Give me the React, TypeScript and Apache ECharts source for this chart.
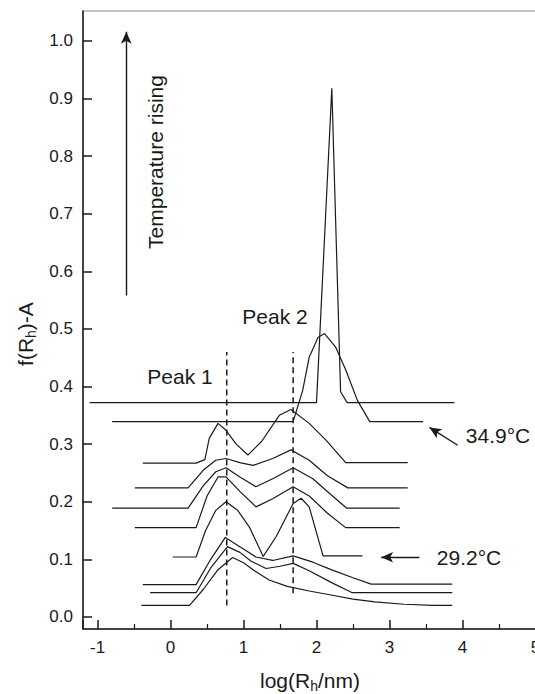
import React, { useEffect, useRef } from 'react';
import * as echarts from 'echarts';

// ---- data (log(Rh/nm), f(Rh)-A) ----
const c1X = [-0.40, 0.26, 0.45, 0.65, 0.85, 1.0, 1.15, 1.35, 1.6, 1.9, 2.2, 2.5, 2.8, 3.2, 3.6, 3.86];
const c1Y = [0.020, 0.020, 0.048, 0.082, 0.103, 0.094, 0.080, 0.064, 0.053, 0.045, 0.038, 0.031, 0.026, 0.022, 0.020, 0.020];

const c2X = [-0.28, 0.35, 0.55, 0.78, 0.95, 1.1, 1.31, 1.5, 1.68, 1.9, 2.2, 2.49, 3.86];
const c2Y = [0.042, 0.042, 0.085, 0.122, 0.112, 0.097, 0.084, 0.088, 0.093, 0.080, 0.060, 0.042, 0.042];

const c3X = [-0.38, 0.35, 0.55, 0.75, 0.95, 1.17, 1.4, 1.68, 1.95, 2.2, 2.5, 2.75, 3.86];
const c3Y = [0.056, 0.056, 0.100, 0.138, 0.122, 0.104, 0.098, 0.106, 0.095, 0.082, 0.068, 0.057, 0.057];

// 29.2 °C
const c4X = [0.03, 0.35, 0.48, 0.62, 0.76, 0.92, 1.08, 1.27, 1.45, 1.68, 1.79, 1.90, 2.09, 2.63];
const c4Y = [0.104, 0.104, 0.150, 0.185, 0.200, 0.185, 0.156, 0.105, 0.140, 0.197, 0.206, 0.191, 0.106, 0.106];

const c5X = [-0.49, 0.35, 0.50, 0.65, 0.76, 0.95, 1.17, 1.40, 1.68, 1.90, 2.15, 2.40, 3.14];
const c5Y = [0.155, 0.155, 0.210, 0.243, 0.243, 0.218, 0.191, 0.205, 0.226, 0.210, 0.180, 0.155, 0.155];

const c6X = [-0.80, 0.24, 0.45, 0.62, 0.76, 0.95, 1.17, 1.40, 1.68, 1.95, 2.2, 2.41, 3.14];
const c6Y = [0.189, 0.189, 0.228, 0.252, 0.259, 0.243, 0.226, 0.240, 0.259, 0.240, 0.212, 0.189, 0.189];

const c7X = [-0.49, 0.24, 0.45, 0.62, 0.76, 0.95, 1.13, 1.40, 1.65, 1.90, 2.15, 2.43, 3.25];
const c7Y = [0.224, 0.224, 0.255, 0.272, 0.275, 0.268, 0.263, 0.275, 0.290, 0.272, 0.245, 0.224, 0.224];

const c8X = [-0.38, 0.35, 0.47, 0.53, 0.65, 0.76, 0.90, 1.06, 1.25, 1.49, 1.65, 1.90, 2.13, 2.40, 3.25];
const c8Y = [0.267, 0.267, 0.273, 0.310, 0.336, 0.324, 0.300, 0.281, 0.305, 0.350, 0.360, 0.336, 0.307, 0.268, 0.268];

// 34.9 °C
const c9X = [-0.80, 1.68, 1.81, 1.90, 2.02, 2.11, 2.26, 2.40, 2.56, 2.73, 3.46];
const c9Y = [0.339, 0.339, 0.393, 0.451, 0.485, 0.492, 0.469, 0.429, 0.376, 0.339, 0.339];

const c10X = [-1.11, 2.00, 2.21, 2.33, 2.42, 3.89];
const c10Y = [0.372, 0.372, 0.918, 0.391, 0.372, 0.372];

const curvesX = [c1X, c2X, c3X, c4X, c5X, c6X, c7X, c8X, c9X, c10X];
const curvesY = [c1Y, c2Y, c3Y, c4Y, c5Y, c6Y, c7Y, c8Y, c9Y, c10Y];

// dashed peak guides: x position, y bottom, y top
const peakLineX = [0.77, 1.68];
const peakLineYBottom = [0.020, 0.041];
const peakLineYTop = [0.46, 0.46];

// arrows [x0, y0, x1(tip), y1(tip)]
const arrowTemp = [-0.607, 0.558, -0.607, 1.016];
const arrow349 = [3.935, 0.298, 3.548, 0.329];
const arrow292 = [3.41, 0.1036, 2.886, 0.1036];

const xMin = -1.2;
const xMax = 5.2;
const yMin = -0.021;
const yMax = 1.052;

const FONT = '"Liberation Sans", Arial, Helvetica, sans-serif';
const INK = '#1a1a1a';

function zip(xs: number[], ys: number[]) {
  return xs.map((x, i) => [x, ys[i]]);
}

export default function App() {
  const ref = useRef<HTMLDivElement>(null);
  useEffect(() => {
    if (!ref.current) return;
    const chart = echarts.init(ref.current, undefined, { renderer: 'svg' });

    const curveSeries = curvesX.map((xs, i) => ({
      type: 'line',
      name: 'curve' + (i + 1),
      data: zip(xs, curvesY[i]),
      showSymbol: false,
      symbol: 'none',
      lineStyle: { color: INK, width: 1.2 },
      z: 3,
    }));

    const dashedSeries = peakLineX.map((x, i) => ({
      type: 'line',
      name: 'peak' + (i + 1),
      data: [[x, peakLineYBottom[i]], [x, peakLineYTop[i]]],
      showSymbol: false,
      symbol: 'none',
      lineStyle: { color: INK, width: 1.5, type: [6, 4] },
      z: 2,
    }));

    const arrows = [arrowTemp, arrow349, arrow292].map((a) => [
      { coord: [a[0], a[1]] },
      { coord: [a[2], a[3]] },
    ]);

    const arrowSeries = {
      type: 'line',
      name: 'arrows',
      data: [],
      markLine: {
        silent: true,
        symbol: ['none', 'arrow'],
        symbolSize: [8, 12],
        label: { show: false },
        lineStyle: { color: INK, width: 1.4, type: 'solid' },
        data: arrows,
      },
    };

    const textStyleBase = { fill: INK, fontFamily: FONT, fontSize: 21, align: 'center', verticalAlign: 'middle' };

    chart.setOption({
      animation: false,
      backgroundColor: '#ffffff',
      grid: {
        left: 83,
        top: 11,
        bottom: 65,
        right: -15,
        outerBoundsMode: 'none',
        containLabel: false,
        show: true,
        borderColor: '#888888',
        borderWidth: 1,
      },
      xAxis: {
        type: 'value',
        min: xMin,
        max: xMax,
        splitNumber: 5,
        axisLine: { show: true, onZero: false, lineStyle: { color: INK, width: 1.5 } },
        axisTick: { show: true, inside: true, length: 9, lineStyle: { color: INK, width: 1.5 } },
        minorTick: { show: true, splitNumber: 2, length: 5, lineStyle: { color: INK, width: 1.2 } },
        splitLine: { show: false },
        axisLabel: {
          color: INK,
          fontFamily: FONT,
          fontSize: 17,
          margin: 10,
          showMinLabel: false,
          showMaxLabel: true,
          hideOverlap: false,
          formatter: (v: number) => (Math.abs(v - Math.round(v)) < 1e-6 ? String(Math.round(v)) : ''),
        },
      },
      yAxis: {
        type: 'value',
        min: yMin,
        max: yMax,
        splitNumber: 10,
        axisLine: { show: true, onZero: false, lineStyle: { color: INK, width: 1.5 } },
        axisTick: { show: true, inside: true, length: 9, lineStyle: { color: INK, width: 1.5 } },
        splitLine: { show: false },
        axisLabel: {
          color: INK,
          fontFamily: FONT,
          fontSize: 17,
          margin: 10,
          showMinLabel: false,
          showMaxLabel: false,
          formatter: (v: number) => (Math.abs(v * 10 - Math.round(v * 10)) < 1e-6 ? v.toFixed(1) : ''),
        },
      },
      series: [...curveSeries, ...dashedSeries, arrowSeries],
      graphic: [
        {
          type: 'text',
          x: 155,
          y: 162,
          rotation: Math.PI / 2,
          style: { ...textStyleBase, text: 'Temperature rising' },
        },
        { type: 'text', x: 180, y: 376, style: { ...textStyleBase, text: 'Peak 1' } },
        { type: 'text', x: 275, y: 316, style: { ...textStyleBase, text: 'Peak 2' } },
        { type: 'text', x: 498, y: 435, style: { ...textStyleBase, text: '34.9°C' } },
        { type: 'text', x: 469, y: 557, style: { ...textStyleBase, text: '29.2°C' } },
        {
          type: 'text',
          x: 25,
          y: 334,
          rotation: Math.PI / 2,
          style: {
            ...textStyleBase,
            text: '{a|f(R}{b|h}{a|)-A}',
            rich: {
              a: { fontSize: 21, fontFamily: FONT, fill: INK },
              b: { fontSize: 14, fontFamily: FONT, fill: INK, padding: [12, 0, 0, 0] },
            },
          },
        },
        {
          type: 'text',
          x: 310,
          y: 680,
          style: {
            ...textStyleBase,
            text: '{a|log(R}{b|h}{a|/nm)}',
            rich: {
              a: { fontSize: 21, fontFamily: FONT, fill: INK },
              b: { fontSize: 14, fontFamily: FONT, fill: INK, padding: [12, 0, 0, 0] },
            },
          },
        },
      ],
    });

    return () => chart.dispose();
  }, []);

  return (
    <div
      ref={ref}
      style={{ position: 'fixed', left: 0, top: 0, width: 535, height: 694, background: '#fff' }}
    />
  );
}
